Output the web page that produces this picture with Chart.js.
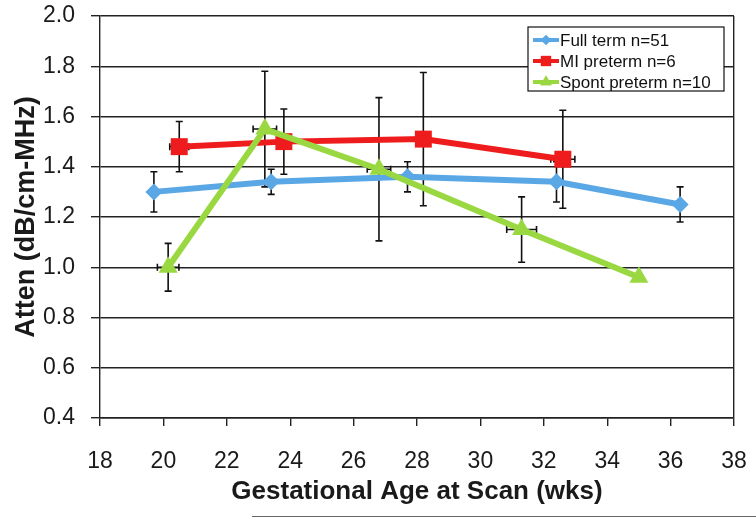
<!DOCTYPE html>
<html><head><meta charset="utf-8">
<script src="https://cdn.jsdelivr.net/npm/chart.js@4.4.1/dist/chart.umd.min.js"></script>
<style>html,body{margin:0;padding:0;background:#fff;}canvas{display:block;}</style>
</head><body>
<canvas id="c" width="756" height="518"></canvas>
<script>
const fullTermX = [19.7, 23.4, 27.7, 32.4, 36.3];
const fullTermY = [1.30, 1.34, 1.36, 1.34, 1.25];
const fullTermErr = [0.08, 0.05, 0.06, 0.08, 0.07];
const fullTermXErr = [0, 0, 0, 0, 0];

const miX = [20.5, 23.8, 28.2, 32.6];
const miY = [1.48, 1.50, 1.51, 1.43];
const miErr = [0.10, 0.13, 0.265, 0.195];
const miXErr = [0.3, 0, 0, 0.38];

const spontX = [20.15, 23.2, 26.8, 31.3, 35.0];
const spontY = [1.00, 1.55, 1.39, 1.15, 0.96];
const spontErr = [0.095, 0.23, 0.285, 0.13, 0];
const spontXErr = [0.34, 0.37, 0.37, 0.47, 0];

const seriesNames = ['Full term n=51', 'MI preterm n=6', 'Spont preterm n=10'];
const xTitle = 'Gestational Age at Scan (wks)';
const yTitle = 'Atten (dB/cm-MHz)';

const BLUE = '#5aa7e6', RED = '#ee1c1c', GREEN = '#9ad842';
const FONT = '"Liberation Sans", Arial, sans-serif';
const pts = (xs, ys) => xs.map((x, i) => ({x, y: ys[i]}));

const errs = [
  {yerr: fullTermErr, xerr: fullTermXErr},
  {yerr: miErr, xerr: miXErr},
  {yerr: spontErr, xerr: spontXErr}
];

const errorBarPlugin = {
  id: 'errorBars',
  beforeDatasetsDraw(chart) {
    const ctx = chart.ctx, xs = chart.scales.x, ys = chart.scales.y;
    ctx.save();
    ctx.strokeStyle = '#111';
    ctx.lineWidth = 1.6;
    const cap = 3.5;
    chart.data.datasets.forEach(ds => {
      const e = errs[ds.legendIdx];
      ds.data.forEach((p, i) => {
        const px = xs.getPixelForValue(p.x), py = ys.getPixelForValue(p.y);
        const ye = e.yerr[i], xe = e.xerr[i];
        if (ye) {
          const t = ys.getPixelForValue(p.y + ye), b = ys.getPixelForValue(p.y - ye);
          ctx.beginPath();
          ctx.moveTo(px, t); ctx.lineTo(px, b);
          ctx.moveTo(px - cap, t); ctx.lineTo(px + cap, t);
          ctx.moveTo(px - cap, b); ctx.lineTo(px + cap, b);
          ctx.stroke();
        }
        if (xe) {
          const l = xs.getPixelForValue(p.x - xe), r = xs.getPixelForValue(p.x + xe);
          ctx.beginPath();
          ctx.moveTo(l, py); ctx.lineTo(r, py);
          ctx.moveTo(l, py - cap); ctx.lineTo(l, py + cap);
          ctx.moveTo(r, py - cap); ctx.lineTo(r, py + cap);
          ctx.stroke();
        }
      });
    });
    ctx.restore();
  }
};

const legendPlugin = {
  id: 'boxLegend',
  afterDraw(chart) {
    const ctx = chart.ctx;
    const bx = 528, by = 27, bw = 196, bh = 64;
    ctx.save();
    ctx.fillStyle = '#fff';
    ctx.fillRect(bx, by, bw, bh);
    ctx.strokeStyle = '#111';
    ctx.lineWidth = 1.2;
    ctx.strokeRect(bx, by, bw, bh);
    ctx.font = '17px ' + FONT;
    ctx.textBaseline = 'middle';
    chart.data.datasets.slice().sort((a, b) => a.legendIdx - b.legendIdx).forEach((ds, k) => {
      const y = by + 13 + k * 21;
      ctx.strokeStyle = ds.borderColor;
      ctx.lineWidth = 4;
      ctx.beginPath(); ctx.moveTo(bx + 5, y); ctx.lineTo(bx + 31, y); ctx.stroke();
      ctx.fillStyle = ds.backgroundColor;
      Chart.helpers.drawPoint(ctx, {pointStyle: ds.pointStyle, radius: ds.pointRadius * 0.6, rotation: 0, borderWidth: 0}, bx + 18, y);
      ctx.fill();
      ctx.fillStyle = '#111';
      ctx.fillText(seriesNames[ds.legendIdx], bx + 32, y + 1);
    });
    // stray scan line at bottom
    ctx.strokeStyle = '#666';
    ctx.lineWidth = 1;
    ctx.beginPath(); ctx.moveTo(252, 516.5); ctx.lineTo(756, 516.5); ctx.stroke();
    ctx.restore();
  }
};

new Chart(document.getElementById('c'), {
  type: 'line',
  data: {
    datasets: [
      {legendIdx: 2, order: 1, data: pts(spontX, spontY), borderColor: GREEN, backgroundColor: GREEN,
       borderWidth: 6, pointStyle: 'triangle', pointRadius: 11, pointBorderWidth: 0, tension: 0},
      {legendIdx: 1, order: 2, data: pts(miX, miY), borderColor: RED, backgroundColor: RED,
       borderWidth: 6, pointStyle: 'rect', pointRadius: 12, pointBorderWidth: 0, tension: 0},
      {legendIdx: 0, order: 3, data: pts(fullTermX, fullTermY), borderColor: BLUE, backgroundColor: BLUE,
       borderWidth: 6, pointStyle: 'rectRot', pointRadius: 8.5, pointBorderWidth: 0, tension: 0}
    ]
  },
  options: {
    responsive: false,
    animation: false,
    layout: {padding: 0},
    plugins: {legend: {display: false}, tooltip: {enabled: false}},
    scales: {
      x: {
        type: 'linear', min: 18, max: 38,
        afterFit: s => { s.height = 100; s.paddingLeft = 0; s.paddingRight = 22; s.paddingTop = 0; s.paddingBottom = 0; },
        ticks: {stepSize: 2, color: '#1a1a1a', padding: 22, maxRotation: 0,
                font: {family: FONT, size: 23}},
        grid: {drawOnChartArea: true, tickLength: 8, lineWidth: 1.4,
               color: c => (c.tick && c.tick.value === 38) ? '#222' : 'rgba(0,0,0,0)', tickColor: '#222'},
        border: {color: '#222', width: 1.4},
        title: {display: true, text: xTitle, color: '#1a1a1a', padding: {top: 2, bottom: 11},
                font: {family: FONT, size: 26, weight: 'bold'}}
      },
      y: {
        min: 0.4, max: 2.0,
        afterFit: s => { s.width = 100; s.paddingTop = 16; s.paddingBottom = 0; s.paddingLeft = 0; s.paddingRight = 0; },
        ticks: {stepSize: 0.2, color: '#1a1a1a', padding: 16,
                callback: v => v.toFixed(1),
                font: {family: FONT, size: 23}},
        grid: {color: '#222', lineWidth: 1.4, tickLength: 9, tickColor: '#222'},
        border: {color: '#222', width: 1.4},
        title: {display: true, text: yTitle, color: '#1a1a1a', padding: {top: 10, bottom: 0},
                font: {family: FONT, size: 27, weight: 'bold'}}
      }
    }
  },
  plugins: [errorBarPlugin, legendPlugin]
});
</script>
</body></html>
